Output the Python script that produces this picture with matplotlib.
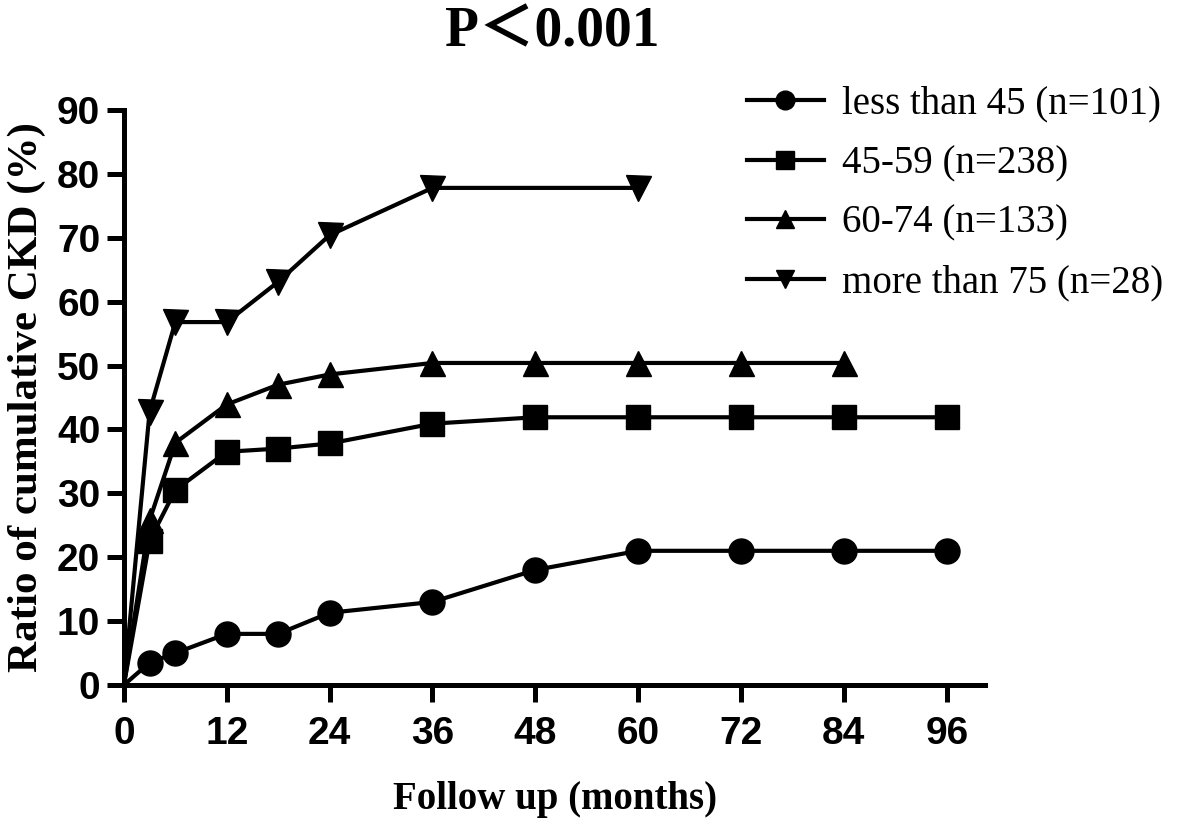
import matplotlib.pyplot as plt

################################################################################
# Datos

months = [0, 3, 6, 12, 18, 24, 36, 48, 60, 72, 84, 96]
less45 = [0, 3.5, 5, 8, 8, 11.3, 13, 18, 21, 21, 21, 21]
g45_59 = [0, 22.6, 30.5, 36.5, 37, 37.8, 40.9, 41.9, 41.9, 41.9, 41.9, 41.9]

months_60_74 = [0, 3, 6, 12, 18, 24, 36, 48, 60, 72, 84]
g60_74 = [0, 25.8, 37.9, 43.9, 47, 48.6, 50.4, 50.4, 50.4, 50.4, 50.4]

months_75 = [0, 3, 6, 12, 18, 24, 36, 60]
more75 = [0, 42.8, 56.8, 56.8, 63.1, 70.4, 77.8, 77.8]

labels = ["less than 45 (n=101)", "45-59 (n=238)", "60-74 (n=133)",
          "more than 75 (n=28)"]
xticks = [0, 12, 24, 36, 48, 60, 72, 84, 96]
yticks = list(range(0, 100, 10))

################################################################################
# Gráfica

fig = plt.figure(figsize=(11.8, 8.18), dpi=100)
ax = fig.add_axes([0.105, 0.1626, 0.73, 0.703])

lw = 3.0
# sin marcador en el origen
mk = slice(1, None)
ax.plot(months, less45, color="k", lw=lw, marker="o", ms=18, markevery=mk,
        label=labels[0], clip_on=False)
ax.plot(months, g45_59, color="k", lw=lw, marker="s", ms=17, markevery=mk,
        label=labels[1], clip_on=False)
ax.plot(months_60_74, g60_74, color="k", lw=lw, marker="^", ms=18,
        markevery=mk, label=labels[2], clip_on=False)
ax.plot(months_75, more75, color="k", lw=lw, marker="v", ms=18,
        markevery=mk, label=labels[3], clip_on=False)

ax.set_xlim(0, 100.5)
ax.set_ylim(0, 90)
ax.set_xticks(xticks)
ax.set_yticks(yticks)

for s in ["top", "right"]:
    ax.spines[s].set_visible(False)
for s in ["left", "bottom"]:
    ax.spines[s].set_linewidth(3.6)

ax.tick_params(axis="both", length=12, width=3.6, direction="out")
ax.tick_params(axis="x", pad=10)
ax.tick_params(axis="y", pad=5)
for t in ax.get_xticklabels() + ax.get_yticklabels():
    t.set_fontfamily("Liberation Sans")
    t.set_fontweight("bold")
    t.set_fontsize(28)

ax.set_xlabel("Follow up (months)", family="Liberation Serif",
              fontweight="bold", fontsize=28, labelpad=21)
ax.set_ylabel("Ratio of cumulative CKD (%)", family="Liberation Serif",
              fontweight="bold", fontsize=31, labelpad=8)

fig.text(0.468, 0.961, "P＜0.001", ha="center", va="center",
         family=["Liberation Serif", "Noto Sans CJK SC"], fontweight="bold",
         fontsize=40)

leg = fig.legend(loc="upper left", bbox_to_anchor=(0.603, 0.938),
                 frameon=False, prop={"family": "Liberation Serif", "size": 28},
                 handlelength=2.0, handletextpad=0.45, labelspacing=0.58,
                 markerscale=0.75)

fig.savefig("out.png", dpi=100)
